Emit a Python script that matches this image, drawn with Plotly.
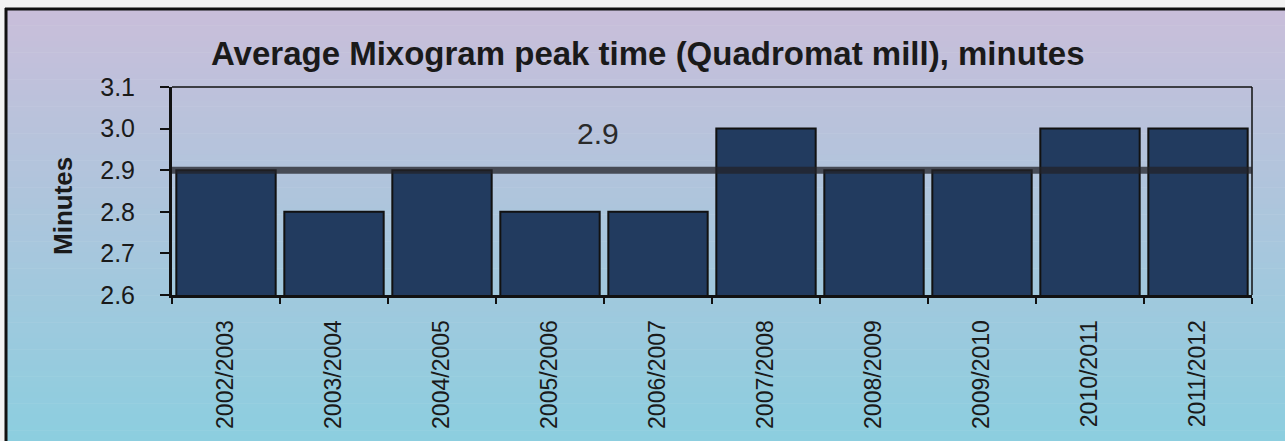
import plotly.graph_objects as go

categories = ["2002/2003", "2003/2004", "2004/2005", "2005/2006", "2006/2007",
              "2007/2008", "2008/2009", "2009/2010", "2010/2011", "2011/2012"]
peak_time = [2.9, 2.8, 2.9, 2.8, 2.8, 3.0, 2.9, 2.9, 3.0, 3.0]
average_value = 2.9
average_label = "2.9"
y_ticks = [2.6, 2.7, 2.8, 2.9, 3.0, 3.1]

W, H = 1285, 441
PX0, PX1, PY0, PY1 = 172, 1252, 87, 295  # plot area in pixels
PW, PH = PX1 - PX0, PY1 - PY0
L, T = PX0, PY0
R, B = W - L - PW, H - T - PH

def px_x(px):
    return (px - PX0) / PW

def px_y(py):
    return (PY1 - py) / PH

FONT = "Liberation Sans, Arial, sans-serif"

fig = go.Figure()
fig.add_trace(go.Bar(
    x=categories, y=peak_time,
    marker=dict(color="#223b5f", line=dict(color="#111111", width=2)),
    showlegend=False,
))

shapes = []
# light strip above the frame
shapes.append(dict(type="rect", xref="paper", yref="paper",
                   x0=px_x(0), x1=px_x(W), y0=px_y(H), y1=px_y(0),
                   fillcolor="#f3f3f3", line=dict(width=0), layer="below"))
# gradient background bands
top_c = (201, 190, 218)
bot_c = (140, 206, 223)
y_start, y_end = 9, H
n = 80
for i in range(n):
    a = y_start + (y_end - y_start) * i / n
    b = y_start + (y_end - y_start) * (i + 1) / n
    f = (i + 0.5) / n
    c = tuple(round(top_c[k] + (bot_c[k] - top_c[k]) * f) for k in range(3))
    shapes.append(dict(type="rect", xref="paper", yref="paper",
                       x0=px_x(6), x1=px_x(W), y0=px_y(min(b + 0.5, H)), y1=px_y(a),
                       fillcolor="rgb(%d,%d,%d)" % c, line=dict(width=0), layer="below"))
# outer frame (left and top)
shapes.append(dict(type="line", xref="paper", yref="paper",
                   x0=px_x(5), x1=px_x(W), y0=px_y(9), y1=px_y(9),
                   line=dict(color="#111111", width=3), layer="below"))
shapes.append(dict(type="line", xref="paper", yref="paper",
                   x0=px_x(6), x1=px_x(6), y0=px_y(8), y1=px_y(H),
                   line=dict(color="#111111", width=3), layer="below"))
# plot area top and right borders
shapes.append(dict(type="line", xref="paper", yref="paper",
                   x0=0, x1=1, y0=1, y1=1, line=dict(color="#111111", width=1.5)))
shapes.append(dict(type="line", xref="paper", yref="paper",
                   x0=1, x1=1, y0=0, y1=1, line=dict(color="#111111", width=1.5)))
# average line
shapes.append(dict(type="line", xref="paper", yref="y",
                   x0=0, x1=1, y0=average_value, y1=average_value,
                   line=dict(color="rgba(35,35,40,0.75)", width=7), layer="above"))

fig.update_layout(
    width=W, height=H,
    margin=dict(l=L, r=R, t=T, b=B, pad=0, autoexpand=False),
    paper_bgcolor="white",
    plot_bgcolor="rgba(0,0,0,0)",
    bargap=0.08,
    shapes=shapes,
    font=dict(family=FONT, color="#1a1a1a"),
    annotations=[
        dict(text="<b>Average Mixogram peak time (Quadromat mill), minutes</b>",
             xref="paper", yref="paper", x=px_x(648), y=px_y(54),
             xanchor="center", yanchor="middle", showarrow=False,
             font=dict(size=33, family=FONT, color="#1a1a1a")),
        dict(text="<b>Minutes</b>", textangle=-90,
             xref="paper", yref="paper", x=px_x(63), y=px_y(206),
             xanchor="center", yanchor="middle", showarrow=False,
             font=dict(size=26, family=FONT, color="#1a1a1a")),
        dict(text=average_label,
             xref="paper", yref="paper", x=px_x(598), y=px_y(133),
             xanchor="center", yanchor="middle", showarrow=False,
             font=dict(size=30, family=FONT, color="#2a2a2a")),
    ],
)
fig.update_xaxes(
    type="category", tickangle=-90, tickson="boundaries", automargin=False,
    ticks="outside", ticklen=6, tickwidth=2, tickcolor="#111111",
    showline=True, linecolor="#111111", linewidth=3,
    showgrid=False, ticklabelstandoff=13,
    tickfont=dict(size=23, family=FONT, color="#1a1a1a"),
)
fig.update_yaxes(
    range=[2.6, 3.1], tickvals=y_ticks, tickformat=".1f", automargin=False,
    ticks="outside", ticklen=9, tickwidth=2, tickcolor="#111111",
    showline=True, linecolor="#111111", linewidth=3,
    showgrid=False, zeroline=False, ticklabelstandoff=20,
    tickfont=dict(size=25, family=FONT, color="#1a1a1a"),
)

fig.write_html(
    "out.html",
    config={"displayModeBar": False},
    post_script="document.body.style.margin='0';document.body.style.overflow='hidden';",
)
